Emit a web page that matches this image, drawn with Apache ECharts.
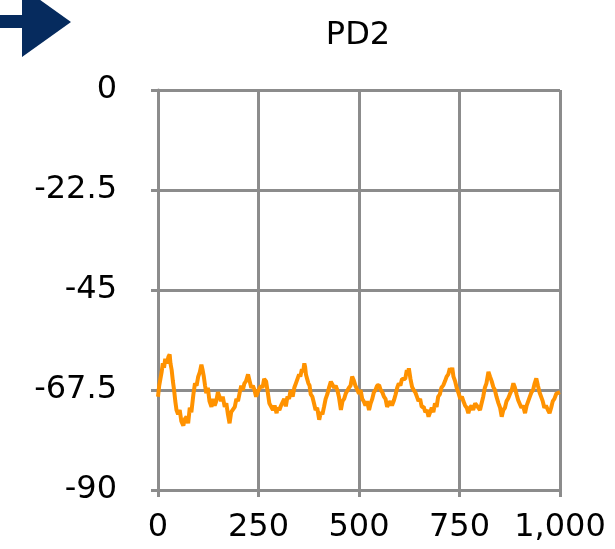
<!DOCTYPE html>
<html>
<head>
<meta charset="utf-8">
<script src="https://cdn.jsdelivr.net/npm/echarts@6/dist/echarts.min.js"></script>
<style>html,body{margin:0;padding:0;background:#fff}#c{width:615px;height:549px}</style>
</head>
<body>
<div id="c"></div>
<script>
var titleText = "PD2";
var xTicks = [0, 250, 500, 750, 1000];
var yTicks = [0, -22.5, -45, -67.5, -90];
var xValues = [0,3,6,9,12,15,18,22,26,29,31,34,37,40,43,46,50,54,58,63,67,71,75,79,83,88,92,96,100,104,108,111,114,117,120,124,128,133,137,141,145,149,153,157,161,166,170,174,178,182,186,191,195,199,203,207,211,215,219,224,228,232,236,240,244,248,252,256,260,264,269,273,277,281,286,290,295,298,302,306,310,314,318,322,326,330,335,339,343,347,351,354,358,361,364,366,368,371,374,377,380,384,388,392,396,401,405,409,413,417,421,426,430,434,438,442,446,450,455,459,463,467,471,475,479,483,487,491,495,500,504,508,512,516,520,525,529,533,537,541,545,550,554,558,562,566,570,574,578,582,587,591,595,599,603,607,611,615,619,622,624,628,632,636,640,644,648,652,656,661,665,669,673,677,681,685,689,693,697,701,705,710,714,718,722,726,729,732,735,739,743,748,752,756,760,764,768,772,776,780,784,789,793,797,801,805,809,813,817,822,826,830,834,838,842,847,851,855,859,863,867,871,875,880,884,888,892,896,900,904,908,913,917,921,925,929,933,937,941,945,949,953,957,961,965,970,974,978,982,986,991,995,1000];
var yValues = [-69,-66.5,-65,-63.5,-61.5,-62.5,-60.5,-61.5,-60,-59.5,-61.5,-63,-65.5,-67.5,-70,-72,-73,-72,-74.5,-75.5,-74,-73.5,-75,-71.5,-72.5,-68.5,-66,-66.5,-64.5,-63.5,-61.8,-63,-64.5,-66.5,-68.2,-67,-70,-71.3,-69.5,-71,-70,-68,-68.2,-70,-69,-71.3,-70.5,-73,-75,-72.5,-72.5,-71.3,-69.5,-70,-68.2,-66.5,-67.5,-66,-65.5,-64,-65.5,-67,-66.5,-67.5,-69,-68,-68.2,-66.5,-67,-65,-65.6,-68,-70.5,-70.5,-72,-71,-72.7,-71.5,-72,-71,-71.3,-69.5,-71.2,-69,-69.5,-67.5,-69,-67,-66,-66,-64,-64.5,-62.8,-63.5,-61.5,-62.3,-64,-65,-66,-66.5,-68.5,-69,-70.5,-72,-71.5,-74.2,-72.5,-73,-71.3,-69.5,-68.5,-66.8,-65.6,-65.6,-67,-66.5,-67.5,-69,-72,-70,-69.5,-68.3,-68.3,-67,-66.5,-64.5,-65.3,-66.5,-66.8,-68.3,-67.5,-69.5,-70.1,-71,-70,-72,-70.5,-69.5,-68,-67.5,-66.5,-66.4,-67.5,-68,-69,-69.5,-71.3,-71.3,-70,-71,-69.8,-68.5,-67,-66,-66.5,-65,-64.9,-65,-63,-64,-62.6,-65,-66.8,-67.5,-68,-69,-70,-69.5,-71.3,-71.3,-72.5,-72,-73.5,-73.1,-71.5,-72.5,-70.5,-71.3,-69,-68.5,-67,-66.4,-65.5,-64.5,-64,-62.6,-63.5,-62.5,-64.5,-65.5,-67,-68.3,-69.5,-69,-70.1,-71,-71.5,-72.7,-71.5,-71,-72,-70.5,-70.5,-71.5,-72,-70.5,-69,-67,-66,-63.4,-64.5,-65.5,-66.8,-67.5,-69,-70.5,-71.5,-73.5,-72,-71.5,-70,-69.4,-68.5,-67.5,-66,-67,-68.5,-69.8,-70,-71.5,-71,-72.7,-71,-70,-69,-68,-67.5,-66,-64.9,-66.5,-68,-69,-70,-71.5,-71,-72,-72.7,-71.5,-70,-69.5,-68.3,-68.5,-68];

var data = xValues.map(function (x, i) { return [x, yValues[i]]; });
var font = "'DejaVu Sans', Verdana, sans-serif";
var gridColor = '#8c8c8c';

var chart = echarts.init(document.getElementById('c'), null, {renderer: 'canvas'});
chart.setOption({
  animation: false,
  backgroundColor: '#ffffff',
  grid: {left: 158, right: 55, top: 90, bottom: 59, containLabel: false},
  graphic: [
    {type: 'polygon', shape: {points: [[0,15],[22,15],[22,-13],[71,22],[22,57],[22,28],[0,28]]}, style: {fill: '#062b5e'}},
    {type: 'text', x: 358, y: 36, style: {text: titleText, font: '32px ' + font, fill: '#000', align: 'center', verticalAlign: 'middle'}}
  ],
  xAxis: {
    type: 'value', min: xTicks[0], max: xTicks[xTicks.length - 1], interval: 250,
    axisLine: {show: true, onZero: false, lineStyle: {color: gridColor, width: 3}},
    axisTick: {show: true, length: 7, lineStyle: {color: gridColor, width: 3}},
    splitLine: {show: true, lineStyle: {color: gridColor, width: 3}},
    axisLabel: {color: '#000', fontFamily: font, fontSize: 32, margin: 22,
      formatter: function (v) { return v.toLocaleString('en-US'); }}
  },
  yAxis: {
    type: 'value', min: yTicks[yTicks.length - 1], max: yTicks[0], interval: 22.5,
    axisLine: {show: true, onZero: false, lineStyle: {color: gridColor, width: 3}},
    axisTick: {show: true, length: 7, lineStyle: {color: gridColor, width: 3}},
    splitLine: {show: true, lineStyle: {color: gridColor, width: 3}},
    axisLabel: {color: '#000', fontFamily: font, fontSize: 32, margin: 41,
      formatter: function (v) { return String(v); }}
  },
  series: [{
    type: 'line', data: data, showSymbol: false, symbol: 'none',
    lineStyle: {color: '#ff9200', width: 4}, z: 3
  }]
});
</script>
</body>
</html>
